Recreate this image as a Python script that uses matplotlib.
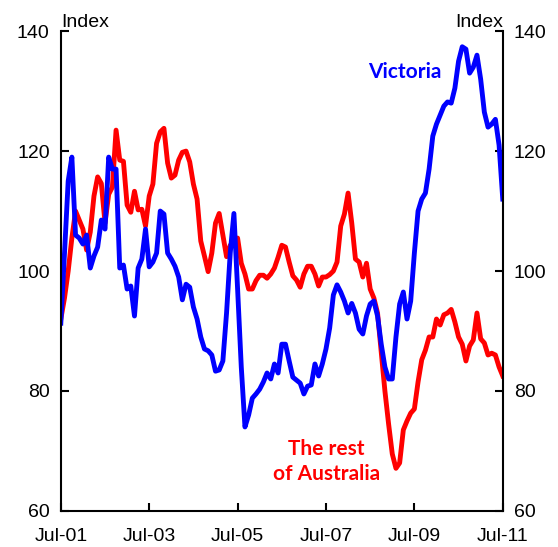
import numpy as np
import matplotlib
matplotlib.use('Agg')
import matplotlib.pyplot as plt

# Monthly index, Jul-2001 to Jul-2011 (121 months)
victoria = [
    91.3, 103, 115, 119, 106, 105.5, 104.5, 106, 100.5, 102.5,
    104, 108.5, 107, 119, 117, 117, 100.5, 101, 97, 97.5,
    92.5, 100.5, 102, 107, 100.7, 101.5, 103, 110, 109.5, 103,
    102, 100.8, 99, 95.2, 97.8, 97.3, 94, 92, 89, 87,
    86.7, 86, 83.3, 83.5, 85, 93, 103, 109.6, 97, 84,
    74, 76, 78.8, 79.5, 80.3, 81.5, 83, 82, 84.5, 83,
    87.8, 87.8, 85, 82.3, 81.8, 81.3, 79.5, 80.8, 81, 84.5,
    82.5, 84.5, 87, 90.5, 96, 97.7, 96.5, 95, 93, 94.6,
    93, 90.3, 89.5, 92.5, 94.5, 95, 92.5, 87.8, 84, 82,
    82, 89, 94.5, 96.5, 92, 95, 103, 110, 112, 113,
    117, 122.5, 124.5, 126, 127.5, 128.2, 128, 130.5, 135, 137.4,
    137, 133, 134, 136, 132, 126.5, 124, 124.5, 125.3, 121,
    112,
]
rest_of_aus = [
    92, 95.5, 100, 105.5, 110, 108.5, 107, 103.5, 106.5, 112.5,
    115.7, 114.6, 108, 112.8, 114, 123.5, 118.5, 118.3, 111, 109.8,
    113.3, 110.2, 110.3, 107.5, 112.5, 114.5, 121.3, 123.2, 123.8, 118,
    115.5, 116, 118.5, 119.8, 120, 118.2, 114.5, 112, 105, 102.5,
    99.9, 103, 108, 109.6, 106, 102.4, 104.3, 104.3, 105.5, 101.3,
    99.5, 97, 97, 98.4, 99.3, 99.3, 98.8, 99.5, 100.5, 102.3,
    104.3, 104, 101.5, 99.2, 98.5, 97.3, 99.5, 100.8, 100.8, 99.5,
    97.5, 99, 99, 99.4, 100, 101.5, 107.5, 109.5, 113, 108,
    102, 101.5, 99, 101.3, 97, 95.5, 93, 86.5, 80, 74.5,
    69.5, 67.1, 68, 73.5, 75, 76.3, 77, 81.5, 85.2, 86.8,
    89, 89, 92, 91, 92.7, 93, 93.6, 91.5, 89, 87.8,
    85, 87.5, 88.5, 93, 88.7, 88, 86, 86.3, 86, 84,
    82.5,
]
xtick_labels = ['Jul-01', 'Jul-03', 'Jul-05', 'Jul-07', 'Jul-09', 'Jul-11']
yticks = [60, 80, 100, 120, 140]

months = np.arange(len(victoria))

plt.rcParams['font.family'] = ['Liberation Sans', 'DejaVu Sans']

fig = plt.figure(figsize=(5.58, 5.47), dpi=100)
ax = fig.add_axes([0.109, 0.066, 0.792, 0.877])

ax.plot(months, rest_of_aus, color='#ff0000', linewidth=3.5, solid_joinstyle='round')
ax.plot(months, victoria, color='#0000ff', linewidth=3.5, solid_joinstyle='round')

ax.set_xlim(0, 120)
ax.set_ylim(60, 140)
ax.set_xticks(np.arange(0, 121, 24))
ax.set_xticklabels(xtick_labels)
ax.set_yticks(yticks)

ax.spines['top'].set_visible(False)
for s in ['left', 'right', 'bottom']:
    ax.spines[s].set_linewidth(1.5)

ax.tick_params(axis='both', direction='in', length=6, width=1.5, labelsize=14)
ax.tick_params(axis='y', left=True, right=True, labelleft=True, labelright=True, pad=8)
ax.tick_params(axis='x', pad=12)

ax.text(0, 1.0, 'Index', transform=ax.transAxes, ha='left', va='bottom', fontsize=14)
ax.text(1, 1.0, 'Index', transform=ax.transAxes, ha='right', va='bottom', fontsize=14)

ax.text(93.4, 133.2, 'Victoria', color='#0000ff', fontsize=15, fontweight='bold',
        family=['Lato', 'DejaVu Sans'], ha='center', va='center')
ax.text(72.2, 68.3, 'The rest\nof Australia', color='#ff0000', fontsize=15, fontweight='bold',
        family=['Lato', 'DejaVu Sans'], ha='center', va='center', linespacing=1.3)

fig.savefig('out.png', dpi=100)
